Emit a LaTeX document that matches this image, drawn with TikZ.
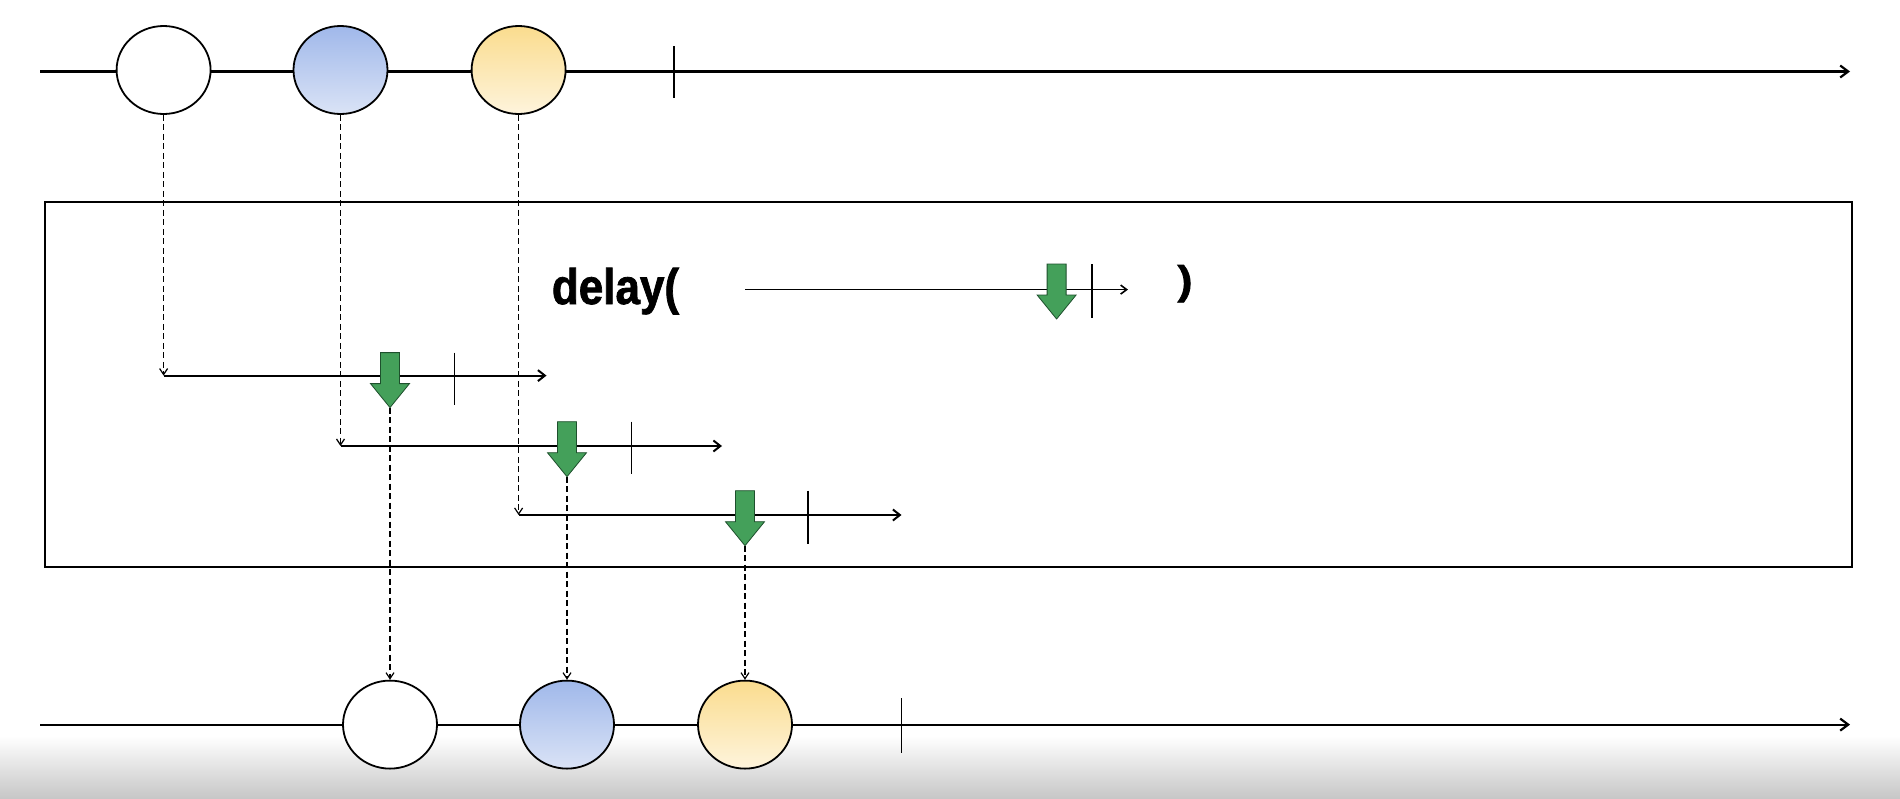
\documentclass[tikz,border=0pt]{standalone}
\usepackage{fontspec}
\setmainfont{Liberation Sans}
\newfontfamily\heavyfont{Liberation Sans}[BoldFeatures={FakeBold=1.6}]
\usetikzlibrary{shapes.geometric,arrows.meta}

\definecolor{ballblue}{RGB}{160,184,234}
\definecolor{ballbluelight}{RGB}{218,227,246}
\definecolor{ballyellow}{RGB}{250,220,142}
\definecolor{ballyellowlight}{RGB}{254,244,220}
\definecolor{dropgreen}{RGB}{68,160,90}
\definecolor{dropedge}{RGB}{30,80,45}

\tikzset{
	ball/.style={ellipse, draw=black, fill=white, line width=1.8pt, minimum width=94pt, minimum height=88pt, inner sep=0pt},
	blueball/.style={ball, top color=ballblue, bottom color=ballbluelight},
	yellowball/.style={ball, top color=ballyellow, bottom color=ballyellowlight},
	timeline/.style={line width=2.2pt, -{Straight Barb[length=8pt,width=12pt]}},
	rowline/.style={line width=2pt, -{Straight Barb[length=7pt,width=11pt]}},
	tickmark/.style={line width=1.5pt},
	feed/.style={line width=1.2pt, dash pattern=on 6pt off 3.5pt, -{Straight Barb[length=6pt,width=8pt]}},
	label/.style={font=\heavyfont\bfseries\fontsize{50}{50}\selectfont, inner sep=0pt},
	drop/.pic={
		\draw [draw=dropedge, fill=dropgreen, line width=0.8pt]
			(-9.5,0) -- (9.5,0) -- (9.5,31) -- (19.5,31) -- (0,55) -- (-19.5,31) -- (-9.5,31) -- cycle;
		\coordinate (-tip) at (0,55);
	}
}

\begin{document}
\begin{tikzpicture}[x=1pt, y=-1pt]
	\useasboundingbox (0,0) rectangle (1900,798);
	\fill [white] (0,0) rectangle (1900,798);
	\shade [top color=white, bottom color=black!22] (0,736) rectangle (1900,798);

	% source stream
	\draw [timeline] (40,71.5) -- (1850,71.5);
	\draw [tickmark] (674,46) -- (674,98);
	\node [ball] (a1) at (163.6,70) {};
	\node [blueball] (a2) at (340.5,70) {};
	\node [yellowball] (a3) at (518.6,70) {};

	% operator box
	\draw [line width=2pt] (44.8,202.4) rectangle (1851.5,567);
	\node [label, anchor=base] (dl) at (615.5,304) {\scalebox{0.88}[1]{delay(}};
	\node [label, anchor=base] (dr) at (1185,294) {\scalebox{0.9}[0.8]{)}};
	\draw [line width=1.6pt, -{Straight Barb[length=6pt,width=9pt]}] (745,289.6) -- (1128,289.6);
	\draw [tickmark] (1092,264) -- (1092,317.5);
	\pic (g0) at (1056.6,264) {drop};

	% delayed copies
	\coordinate (r1) at (163.6,375.6);
	\coordinate (r2) at (340.5,446);
	\coordinate (r3) at (518.6,515);
	\draw [rowline] (r1) -- (546.5,375.6);
	\draw [rowline] (r2) -- (722,446);
	\draw [rowline] (r3) -- (901.5,515);
	\draw [tickmark] (454.4,352.6) -- (454.4,404.7);
	\draw [tickmark] (631.3,421.7) -- (631.3,473.8);
	\draw [tickmark] (808.2,490.7) -- (808.2,544);

	\draw [feed] (a1.south) -- (r1);
	\draw [feed] (a2.south) -- (r2);
	\draw [feed] (a3.south) -- (r3);

	\pic (g1) at (390,352.6) {drop};
	\pic (g2) at (567,421.7) {drop};
	\pic (g3) at (745,490.7) {drop};

	% result stream
	\draw [timeline] (40,724.6) -- (1850,724.6);
	\draw [tickmark] (901.5,698) -- (901.5,752.5);
	\node [ball] (b1) at (390,724.6) {};
	\node [blueball] (b2) at (567,724.6) {};
	\node [yellowball] (b3) at (745,724.6) {};

	\draw [feed] (g1-tip) -- (b1.north);
	\draw [feed] (g2-tip) -- (b2.north);
	\draw [feed] (g3-tip) -- (b3.north);
\end{tikzpicture}
\end{document}
